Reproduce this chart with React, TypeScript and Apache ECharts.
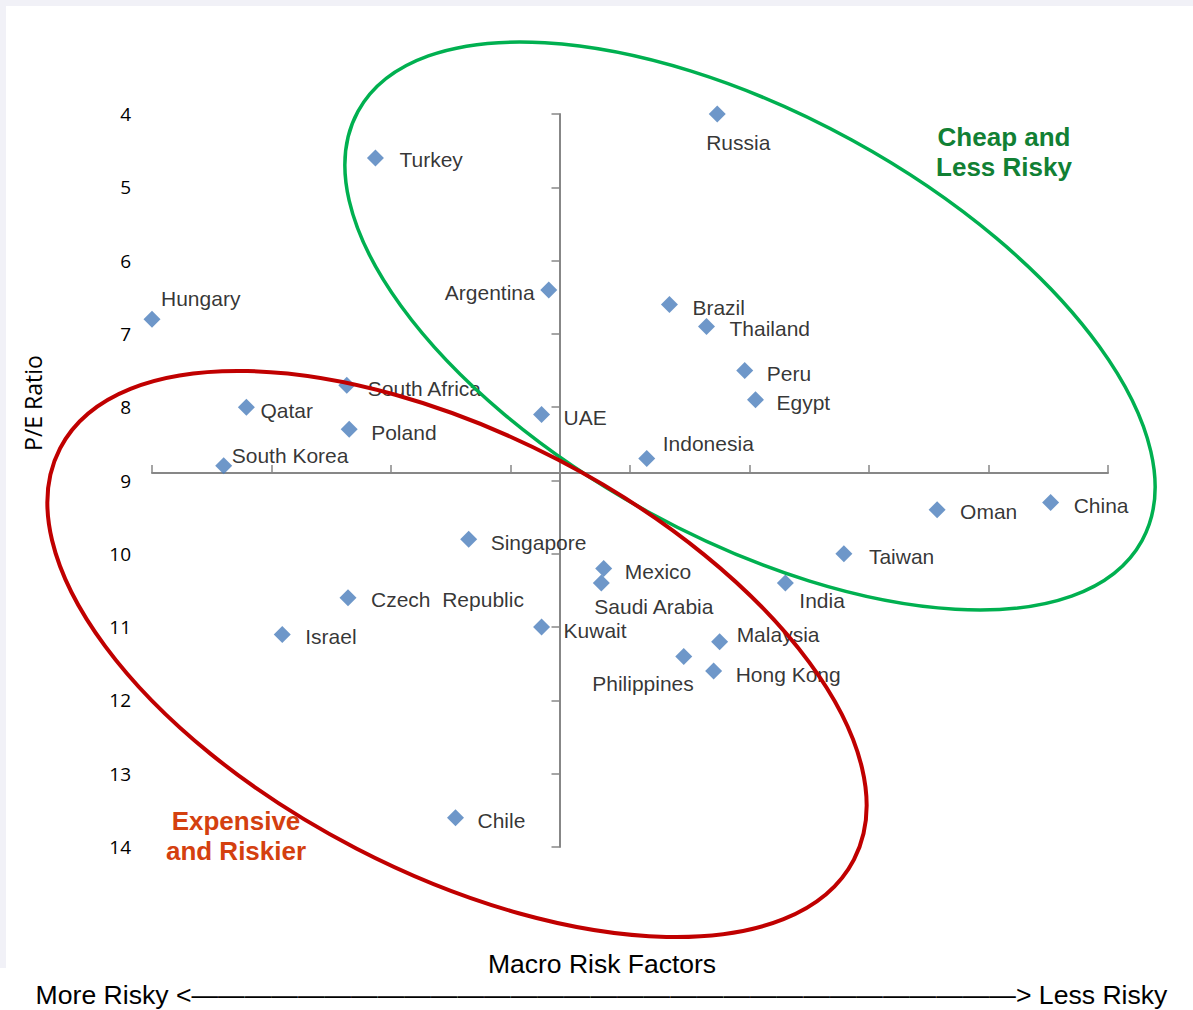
import React, { useEffect, useRef } from "react";
import * as echarts from "echarts";

// Emerging-market P/E ratios against a macro risk score
const countries = [
  "Russia", "Turkey", "Hungary", "Argentina", "Brazil", "Thailand", "Peru",
  "Egypt", "South Africa", "Qatar", "UAE", "Poland", "Indonesia", "South Korea",
  "Oman", "China", "Singapore", "Taiwan", "Mexico", "Saudi Arabia", "India",
  "Czech  Republic", "Kuwait", "Israel", "Malaysia", "Philippines", "Hong Kong", "Chile",
];
const macroRisk = [
  4.73, 1.87, 0.0, 3.32, 4.33, 4.64, 4.96,
  5.05, 1.63, 0.79, 3.26, 1.65, 4.14, 0.6,
  6.57, 7.52, 2.65, 5.79, 3.78, 3.76, 5.3,
  1.64, 3.26, 1.09, 4.75, 4.45, 4.7, 2.54,
];
const peRatio = [
  4.0, 4.6, 6.8, 6.4, 6.6, 6.9, 7.5,
  7.9, 7.7, 8.0, 8.1, 8.3, 8.7, 8.8,
  9.4, 9.3, 9.8, 10.0, 10.2, 10.4, 10.4,
  10.6, 11.0, 11.1, 11.2, 11.4, 11.6, 13.6,
];
const peTicks = [4, 5, 6, 7, 8, 9, 10, 11, 12, 13, 14];

// Where each country's label sits relative to its marker: [dx, dy, align]
type Align = "left" | "right" | "center";
const labelPlacement: Record<string, [number, number, Align]> = {
  Russia: [21, 28, "center"],
  Turkey: [24, 2, "left"],
  Hungary: [9, -21, "left"],
  Argentina: [-14, 3, "right"],
  Brazil: [23, 3, "left"],
  Thailand: [23, 2, "left"],
  Peru: [22, 3, "left"],
  Egypt: [21, 3, "left"],
  "South Africa": [21, 3, "left"],
  Qatar: [14, 3, "left"],
  UAE: [22, 3, "left"],
  Poland: [22, 3, "left"],
  Indonesia: [16, -15, "left"],
  "South Korea": [8, -10, "left"],
  Oman: [23, 2, "left"],
  China: [23, 3, "left"],
  Singapore: [22, 3, "left"],
  Taiwan: [25, 3, "left"],
  Mexico: [21, 3, "left"],
  "Saudi Arabia": [-7, 23, "left"],
  India: [14, 17, "left"],
  "Czech  Republic": [23, 2, "left"],
  Kuwait: [22, 3, "left"],
  Israel: [23, 2, "left"],
  Malaysia: [17, -7, "left"],
  Philippines: [10, 27, "right"],
  "Hong Kong": [22, 3, "left"],
  Chile: [22, 3, "left"],
};

const W = 1193;
const H = 1010;
const GRID = { left: 152, right: 85, top: 114, bottom: 163 };
const AXIS_COLOR = "#878787";
const LABEL_FONT = '"Liberation Sans", Arial, sans-serif';
const HALF_SYMBOL = 8.5;

export default function App() {
  const ref = useRef<HTMLDivElement>(null);

  useEffect(() => {
    if (!ref.current) return;
    const chart = echarts.init(ref.current, undefined, { renderer: "svg" });

    const plotBottom = H - GRID.bottom;
    const crossY = 473; // pixel row where the horizontal axis crosses
    const crossX = 559.5; // pixel column of the vertical axis

    const points = countries.map((name, i) => {
      const [dx, dy, align] = labelPlacement[name];
      return {
        name,
        value: [macroRisk[i], peRatio[i]],
        label: {
          show: true,
          formatter: name,
          position: [HALF_SYMBOL + dx, HALF_SYMBOL + dy],
          align,
          verticalAlign: "middle",
        },
      };
    });

    const deg = Math.PI / 180;

    chart.setOption({
      animation: false,
      backgroundColor: "#ffffff",
      grid: { ...GRID },
      xAxis: {
        type: "value",
        min: 0,
        max: 8,
        interval: 1,
        position: "bottom",
        offset: crossY - plotBottom,
        axisLine: { show: true, onZero: false, lineStyle: { color: AXIS_COLOR, width: 2 } },
        axisTick: { show: true, inside: true, length: 8, lineStyle: { color: AXIS_COLOR, width: 1.5 } },
        axisLabel: { show: false },
        splitLine: { show: false },
      },
      yAxis: [
        {
          type: "value",
          inverse: true,
          min: peTicks[0],
          max: peTicks[peTicks.length - 1],
          interval: 1,
          position: "left",
          axisLine: { show: false, onZero: false },
          axisTick: { show: false },
          axisLabel: {
            margin: 21,
            color: "#000000",
            fontSize: 19,
            fontFamily: '"Open Sans", sans-serif',
          },
          splitLine: { show: false },
        },
        {
          type: "value",
          inverse: true,
          min: peTicks[0],
          max: peTicks[peTicks.length - 1],
          interval: 1,
          position: "left",
          offset: -(crossX - GRID.left),
          axisLine: { show: true, onZero: false, lineStyle: { color: AXIS_COLOR, width: 2 } },
          axisTick: { show: true, length: 8, lineStyle: { color: AXIS_COLOR, width: 1.5 } },
          axisLabel: { show: false },
          splitLine: { show: false },
        },
      ],
      series: [
        {
          type: "scatter",
          xAxisIndex: 0,
          yAxisIndex: 0,
          clip: false,
          symbol: "diamond",
          symbolSize: HALF_SYMBOL * 2,
          itemStyle: { color: "#4a7dbb" },
          label: {
            color: "#000000",
            fontSize: 21,
            fontFamily: LABEL_FONT,
          },
          emphasis: { disabled: true },
          data: points,
          z: 3,
        },
      ],
      graphic: [
        // light frame along the top and left edges
        { type: "rect", z: -10, shape: { x: 0, y: 0, width: W, height: 6 }, style: { fill: "#f1f1f7" } },
        { type: "rect", z: -10, shape: { x: 0, y: 0, width: 6, height: 968 }, style: { fill: "#f1f1f7" } },
        // cheap and less risky zone
        {
          type: "ellipse",
          z: 100,
          x: 750,
          y: 326,
          rotation: -28.7 * deg,
          shape: { cx: 0, cy: 0, rx: 447, ry: 212 },
          style: { fill: "none", stroke: "#00b050", lineWidth: 3.5 },
        },
        // expensive and riskier zone
        {
          type: "ellipse",
          z: 100,
          x: 457,
          y: 654,
          rotation: -27.4 * deg,
          shape: { cx: 0, cy: 0, rx: 447, ry: 219 },
          style: { fill: "none", stroke: "#c00000", lineWidth: 4 },
        },
        {
          type: "text",
          z: 101,
          x: 1004,
          y: 152,
          style: {
            text: "Cheap and\nLess Risky",
            fill: "#118034",
            font: `bold 26px ${LABEL_FONT}`,
            lineHeight: 30,
            align: "center",
            verticalAlign: "middle",
          },
        },
        {
          type: "text",
          z: 101,
          x: 236,
          y: 836,
          style: {
            text: "Expensive\nand Riskier",
            fill: "#d4400f",
            font: `bold 26px ${LABEL_FONT}`,
            lineHeight: 30,
            align: "center",
            verticalAlign: "middle",
          },
        },
        {
          type: "text",
          x: 33,
          y: 403,
          rotation: Math.PI / 2,
          style: {
            text: "P/E Ratio",
            fill: "#000000",
            font: '23px "Open Sans", sans-serif',
            align: "center",
            verticalAlign: "middle",
          },
        },
        {
          type: "text",
          x: 602,
          y: 964,
          style: {
            text: "Macro Risk Factors",
            fill: "#000000",
            font: `26.5px ${LABEL_FONT}`,
            align: "center",
            verticalAlign: "middle",
          },
        },
        {
          type: "text",
          x: 601.5,
          y: 995,
          style: {
            text: "More Risky <" + "\u2014".repeat(31) + "> Less Risky",
            fill: "#000000",
            font: `26.6px ${LABEL_FONT}`,
            align: "center",
            verticalAlign: "middle",
          },
        },
      ],
    });

    return () => chart.dispose();
  }, []);

  return (
    <div
      ref={ref}
      style={{ position: "absolute", left: 0, top: 0, width: W, height: H }}
    />
  );
}
